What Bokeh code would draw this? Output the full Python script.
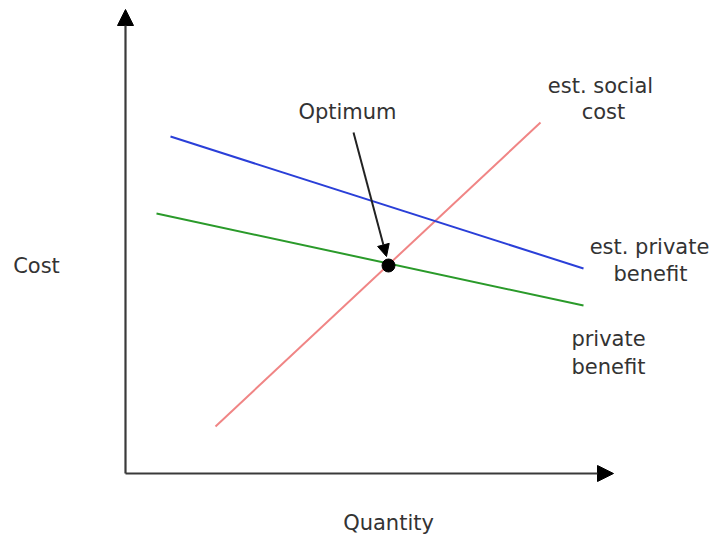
from bokeh.plotting import figure
from bokeh.models import Range1d, Arrow, NormalHead, ColumnDataSource
from bokeh.embed import file_html
from bokeh.resources import INLINE

# Chart units: quantity (x) and cost (y), origin at axis corner
social_cost_x = [90, 415]
social_cost_y = [47, 351]
est_private_x = [45, 458]
est_private_y = [337, 205]
private_x = [31, 458]
private_y = [260, 168]
optimum_x = [263]
optimum_y = [208]
arrow_start = (228, 341)
arrow_end = (261, 217)
x_axis_end = 488
y_axis_end = 464

labels_text = ["Optimum", "est. social", "cost", "est. private", "benefit", "private", "benefit", "Cost", "Quantity"]
labels_x = [222, 475, 478, 524, 525, 483, 483, -89, 263]
labels_y = [362, 388, 362, 227, 200, 135, 107, 208, -49]

p = figure(width=716, height=541, output_backend="svg", toolbar_location=None,
           x_range=Range1d(-125, 591), y_range=Range1d(-68, 473), min_border=0)
p.axis.visible = False
p.grid.visible = False
p.outline_line_color = None
p.background_fill_color = "white"

axis_color = "#3a3a3a"
p.add_layout(Arrow(end=NormalHead(size=16, fill_color="black", line_color="black"),
                   x_start=0, y_start=0, x_end=x_axis_end, y_end=0,
                   line_color=axis_color, line_width=2.2))
p.add_layout(Arrow(end=NormalHead(size=16, fill_color="black", line_color="black"),
                   x_start=0, y_start=0, x_end=0, y_end=y_axis_end,
                   line_color=axis_color, line_width=2.2))

p.line(social_cost_x, social_cost_y, line_color="#f08585", line_width=2)
p.line(est_private_x, est_private_y, line_color="#2a3fd8", line_width=2)
p.line(private_x, private_y, line_color="#2a9a2a", line_width=2)

p.add_layout(Arrow(end=NormalHead(size=12, fill_color="black", line_color="black"),
                   x_start=arrow_start[0], y_start=arrow_start[1],
                   x_end=arrow_end[0], y_end=arrow_end[1],
                   line_color="#222222", line_width=2))

p.scatter(optimum_x, optimum_y, size=13, fill_color="black", line_color="black")

src = ColumnDataSource(dict(x=labels_x, y=labels_y, t=labels_text))
p.text(x="x", y="y", text="t", source=src, text_align="center", text_baseline="middle",
       text_font_size="21px", text_color="#333333", text_font={"value": "DejaVu Sans"})

with open("out.html", "w") as f:
    f.write(file_html(p, INLINE))
